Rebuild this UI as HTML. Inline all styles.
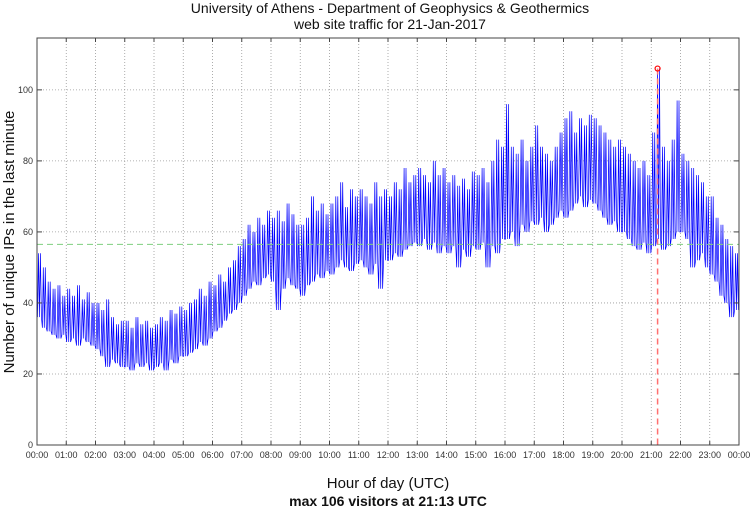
<!DOCTYPE html>
<html><head><meta charset="utf-8"><style>
body{margin:0;background:#fff;width:750px;height:511px;overflow:hidden;font-family:"Liberation Sans",sans-serif}
</style></head><body>
<svg id="chart" width="750" height="511" xmlns="http://www.w3.org/2000/svg">
<text x="390" y="13" font-size="14" text-anchor="middle" fill="#111">University of Athens - Department of Geophysics &amp; Geothermics</text>
<text x="390" y="29" font-size="14" text-anchor="middle" fill="#111">web site traffic for 21-Jan-2017</text>
<text transform="translate(14,242) rotate(-90)" font-size="15" text-anchor="middle" fill="#111">Number of unique IPs in the last minute</text>
<text x="388" y="488" font-size="15" text-anchor="middle" fill="#111">Hour of day (UTC)</text>
<text x="388" y="506" font-size="14" font-weight="bold" text-anchor="middle" fill="#111">max 106 visitors at 21:13 UTC</text>
<g id="grid"></g><g id="series"></g><g id="marks"></g><g id="ticks"></g>
<rect x="37" y="38" width="702" height="407" fill="none" stroke="#444" stroke-width="1"/>
</svg>
<script>
const yTicks=[0,20,40,60,80,100];
const xTickLabels=["00:00","01:00","02:00","03:00","04:00","05:00","06:00","07:00","08:00","09:00","10:00","11:00","12:00","13:00","14:00","15:00","16:00","17:00","18:00","19:00","20:00","21:00","22:00","23:00","00:00"];
const binHigh=[54,50,46,44,45,42, 44,42,45,41,43,40, 40,38,41,36,34,35, 35,33,36,34,35,33, 34,36,35,38,37,39, 38,40,41,44,42,46, 45,48,46,50,52,56, 58,62,60,64,62,66, 64,66,63,68,65,62, 62,64,70,66,68,65, 68,70,74,67,72,70, 72,70,68,74,70,72, 70,74,72,78,74,76, 78,76,74,80,76,78, 74,76,73,75,72,77, 76,78,74,80,86,84, 96,84,82,86,80,84, 90,84,82,80,84,88, 92,94,88,92,90,93, 92,90,88,86,84,86, 84,82,80,78,80,76, 88,106,84,80,86,97, 82,80,78,76,74,70, 70,64,62,58,56,54];
const binLow=[36,33,32,31,30,31, 29,30,28,30,29,28, 27,25,22,24,23,22, 22,21,23,22,23,21, 22,23,21,24,23,25, 25,26,27,29,28,30, 32,33,35,37,38,40, 42,44,46,45,47,48, 46,38,44,47,45,44, 42,45,46,48,47,49, 48,50,52,50,49,51, 52,50,48,51,44,52, 52,54,53,55,56,57, 56,58,55,57,54,56, 54,56,50,55,53,56, 55,57,50,56,54,58, 58,60,56,62,60,63, 62,64,60,62,64,66, 64,66,68,70,67,69, 68,66,64,62,63,60, 60,58,56,55,57,54, 56,58,55,56,58,60, 60,58,50,52,54,50, 48,46,42,40,36,38];
const meanValue=56.5;
const maxValue=106, maxMinute=21*60+13;

const L=37,R=739,T=38,B=445,YMAX=114.6;
const xs=m=>L+(R-L)*m/1440;
const ys=v=>B-(B-T)*v/YMAX;
const NS="http://www.w3.org/2000/svg";
function mk(tag,attrs,parent){const e=document.createElementNS(NS,tag);for(const k in attrs)e.setAttribute(k,attrs[k]);document.getElementById(parent).appendChild(e);return e;}

yTicks.forEach(v=>{
  if(v>0){const g=mk('line',{x1:L,x2:R,y1:ys(v),y2:ys(v),stroke:'#999','stroke-width':0.8,'stroke-dasharray':'1,2'},'grid');
  
  }
  const t=mk('text',{x:L-4,y:ys(v)+3,'font-size':9,'text-anchor':'end',fill:'#333'},'ticks');t.textContent=v;
  
  
  mk('line',{x1:L,x2:L+5,y1:ys(v),y2:ys(v),stroke:'#444'},'ticks');
  mk('line',{x1:R-5,x2:R,y1:ys(v),y2:ys(v),stroke:'#444'},'ticks');
});
xTickLabels.forEach((lab,i)=>{
  const x=xs(i*60);
  if(i>0&&i<24){const g=mk('line',{x1:x,x2:x,y1:T,y2:B,stroke:'#999','stroke-width':0.8,'stroke-dasharray':'1,2'},'grid');
  
  }
  mk('line',{x1:x,x2:x,y1:B-4,y2:B,stroke:'#444'},'ticks');
  mk('line',{x1:x,x2:x,y1:T,y2:T+4,stroke:'#444'},'ticks');
  const t=mk('text',{x:x,y:B+13,'font-size':9,'text-anchor':'middle',fill:'#333'},'ticks');t.textContent=lab;
  
  
});
let pts=[];
binHigh.forEach((h,i)=>{
  const lo=binLow[i];
  pts.push(xs(i*10+1).toFixed(1)+','+ys(lo).toFixed(1));
  pts.push(xs(i*10+3).toFixed(1)+','+ys(h).toFixed(1));
  pts.push(xs(i*10+5).toFixed(1)+','+ys(lo).toFixed(1));
  pts.push(xs(i*10+7).toFixed(1)+','+ys(h).toFixed(1));
  pts.push(xs(i*10+9).toFixed(1)+','+ys(lo).toFixed(1));
});
const pl=mk('polyline',{points:pts.join(' '),fill:'none',stroke:'#0000ff','stroke-width':0.7},'series');


const ml=mk('line',{x1:L,x2:R,y1:ys(meanValue),y2:ys(meanValue),stroke:'#7fcf7f','stroke-width':1,'stroke-dasharray':'6,4'},'marks');


const vl=mk('line',{x1:xs(maxMinute),x2:xs(maxMinute),y1:ys(maxValue),y2:B,stroke:'#ff7070','stroke-width':1.5,'stroke-dasharray':'6,4'},'marks');


const c=mk('circle',{cx:xs(maxMinute),cy:ys(maxValue),r:2.5,fill:'none',stroke:'#ff0000','stroke-width':1.2},'marks');


</script>
</body></html>
